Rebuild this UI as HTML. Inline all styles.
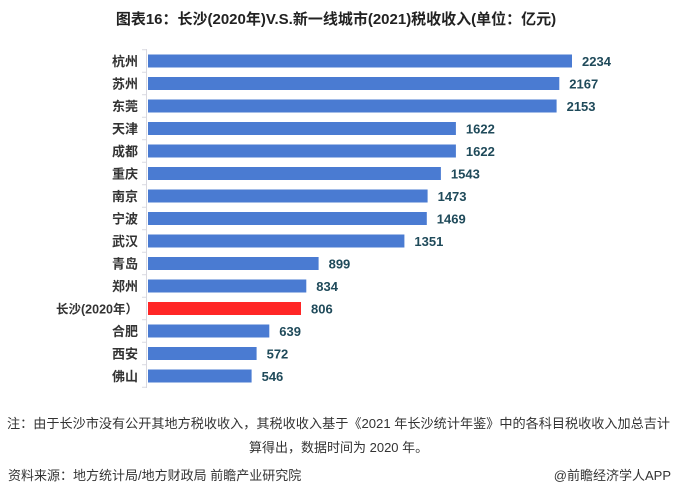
<!DOCTYPE html>
<html><head><meta charset="utf-8"><style>
body{margin:0;background:#fff}
svg text{font-family:"Liberation Sans","Noto Sans CJK SC",sans-serif}
</style></head><body>
<svg width="673" height="497" xmlns="http://www.w3.org/2000/svg">
<rect width="673" height="497" fill="#fff"/>
<text x="336" y="24" text-anchor="middle" font-size="15" font-weight="bold" fill="#222">图表16：长沙(2020年)V.S.新一线城市(2021)税收收入(单位：亿元)</text>
<g stroke="#d8d8e0" stroke-width="1">
<line x1="146.5" y1="49" x2="146.5" y2="388"/>
<line x1="142" x2="147" y1="49.75" y2="49.75"/><line x1="142" x2="147" y1="72.25" y2="72.25"/><line x1="142" x2="147" y1="94.75" y2="94.75"/><line x1="142" x2="147" y1="117.25" y2="117.25"/><line x1="142" x2="147" y1="139.75" y2="139.75"/><line x1="142" x2="147" y1="162.25" y2="162.25"/><line x1="142" x2="147" y1="184.75" y2="184.75"/><line x1="142" x2="147" y1="207.25" y2="207.25"/><line x1="142" x2="147" y1="229.75" y2="229.75"/><line x1="142" x2="147" y1="252.25" y2="252.25"/><line x1="142" x2="147" y1="274.75" y2="274.75"/><line x1="142" x2="147" y1="297.25" y2="297.25"/><line x1="142" x2="147" y1="319.75" y2="319.75"/><line x1="142" x2="147" y1="342.25" y2="342.25"/><line x1="142" x2="147" y1="364.75" y2="364.75"/><line x1="142" x2="147" y1="387.25" y2="387.25"/>
</g>
<g fill="#4a7bd2">
<rect x="148" y="54.5" width="424" height="13"/>
<rect x="148" y="77" width="411.3" height="13"/>
<rect x="148" y="99.5" width="408.6" height="13"/>
<rect x="148" y="122" width="307.9" height="13"/>
<rect x="148" y="144.5" width="307.9" height="13"/>
<rect x="148" y="167" width="292.9" height="13"/>
<rect x="148" y="189.5" width="279.6" height="13"/>
<rect x="148" y="212" width="278.8" height="13"/>
<rect x="148" y="234.5" width="256.4" height="13"/>
<rect x="148" y="257" width="170.6" height="13"/>
<rect x="148" y="279.5" width="158.3" height="13"/>
<rect x="148" y="302" width="153" height="13" fill="#ff2626"/>
<rect x="148" y="324.5" width="121.3" height="13"/>
<rect x="148" y="347" width="108.6" height="13"/>
<rect x="148" y="369.5" width="103.6" height="13"/>
</g>
<g font-size="13" font-weight="bold" fill="#333" text-anchor="end">
<text x="138" y="66">杭州</text><text x="138" y="88.5">苏州</text><text x="138" y="111">东莞</text><text x="138" y="133.5">天津</text><text x="138" y="156">成都</text><text x="138" y="178.5">重庆</text><text x="138" y="201">南京</text><text x="138" y="223.5">宁波</text><text x="138" y="246">武汉</text><text x="138" y="268.5">青岛</text><text x="138" y="291">郑州</text><text x="138" y="313.5" font-size="12.5">长沙(2020年）</text><text x="138" y="336">合肥</text><text x="138" y="358.5">西安</text><text x="138" y="381">佛山</text>
</g>
<g font-size="13" font-weight="bold" fill="#1f4a5a">
<text x="582" y="66">2234</text><text x="569.3" y="88.5">2167</text><text x="566.6" y="111">2153</text><text x="465.9" y="133.5">1622</text><text x="465.9" y="156">1622</text><text x="450.9" y="178.5">1543</text><text x="437.6" y="201">1473</text><text x="436.8" y="223.5">1469</text><text x="414.4" y="246">1351</text><text x="328.6" y="268.5">899</text><text x="316.3" y="291">834</text><text x="311" y="313.5">806</text><text x="279.3" y="336">639</text><text x="266.6" y="358.5">572</text><text x="261.6" y="381">546</text>
</g>
<text x="7" y="428" font-size="13" fill="#333" textLength="663" lengthAdjust="spacingAndGlyphs">注：由于长沙市没有公开其地方税收收入，其税收收入基于《2021 年长沙统计年鉴》中的各科目税收收入加总吉计</text>
<text x="249" y="452" font-size="13" fill="#333">算得出，数据时间为 2020 年。</text>
<text x="8" y="480" font-size="13" fill="#333">资料来源：地方统计局/地方财政局 前瞻产业研究院</text>
<text x="671" y="480" text-anchor="end" font-size="13" fill="#333">@前瞻经济学人APP</text>
</svg>
</body></html>
